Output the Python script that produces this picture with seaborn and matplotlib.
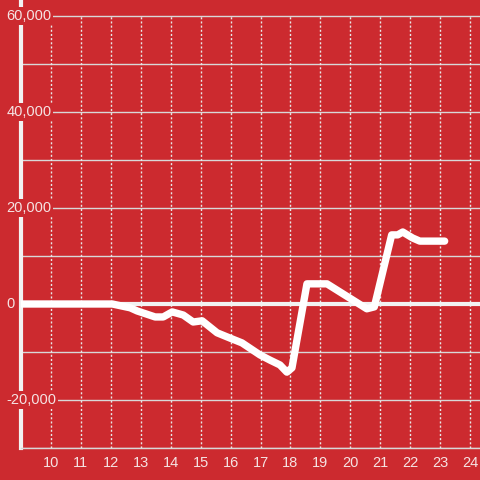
import matplotlib
matplotlib.use("Agg")
import matplotlib.pyplot as plt
import seaborn as sns
import pandas as pd

# data
hours = [9.0, 12.05, 12.65, 12.88, 13.48, 13.75, 14.05, 14.42, 14.75, 15.05,
         15.55, 15.98, 16.38, 16.98, 17.32, 17.65, 17.88, 18.05, 18.55, 19.22,
         20.55, 20.8, 21.38, 21.58, 21.75, 22.08, 22.32, 23.15]
values = [0, 0, -800, -1450, -2700, -2700, -1650, -2300, -3750, -3500,
          -6000, -7100, -8100, -10600, -11700, -12700, -14200, -13300, 4200, 4200,
          -1000, -600, 14400, 14400, 15000, 13750, 13100, 13100]
x_ticks = list(range(10, 25))
y_ticks = [-20000, 0, 20000, 40000, 60000]
y_labels = ["-20,000", "0", "20,000", "40,000", "60,000"]

bg = "#cc2a2f"
txt = "#f5e3e3"

sns.set_style("white", {"axes.facecolor": bg, "figure.facecolor": bg})
plt.rcParams["font.family"] = ["Liberation Sans", "DejaVu Sans"]

fig = plt.figure(figsize=(4.8, 4.8), dpi=100)
ax = fig.add_axes([21 / 480, 32 / 480, 459 / 480, 448 / 480])

df = pd.DataFrame({"hour": hours, "value": values})

# grid
for v in range(-30000, 60001, 10000):
    ax.axhline(v, color="#d8d8d8", lw=1, zorder=1)
ax.vlines(x_ticks, -30000, 60000, color="#e8e8e8", lw=1,
          linestyles=(0, (1.5, 1.5)), zorder=1)
ax.axhline(0, color="#f2f2f2", lw=3, zorder=2)

sns.lineplot(data=df, x="hour", y="value", color="white", lw=5.3,
             ax=ax, zorder=3, solid_joinstyle="round")

ax.set_xlim(9.0, 24.33)
ax.set_ylim(-30000, 63333)
ax.set_xlabel("")
ax.set_ylabel("")

ax.set_xticks(x_ticks)
ax.set_xticklabels([str(t) for t in x_ticks])
ax.tick_params(axis="x", length=0, pad=5.5, labelsize=10.5, colors=txt)
ax.set_yticks([])

for side in ["top", "right"]:
    ax.spines[side].set_visible(False)
ax.spines["left"].set_color("#f2f2f2")
ax.spines["left"].set_linewidth(3)
ax.spines["left"].set_bounds(-30000, 63333)
ax.spines["bottom"].set_color("#d8d8d8")
ax.spines["bottom"].set_linewidth(1)

for v, lab in zip(y_ticks, y_labels):
    ax.text(-0.032, v, lab, transform=ax.get_yaxis_transform(), ha="left",
            va="center", fontsize=10.5, color=txt, zorder=5, clip_on=False,
            bbox=dict(facecolor=bg, edgecolor="none", pad=1.5))

fig.savefig("out.png", dpi=100, facecolor=bg)
